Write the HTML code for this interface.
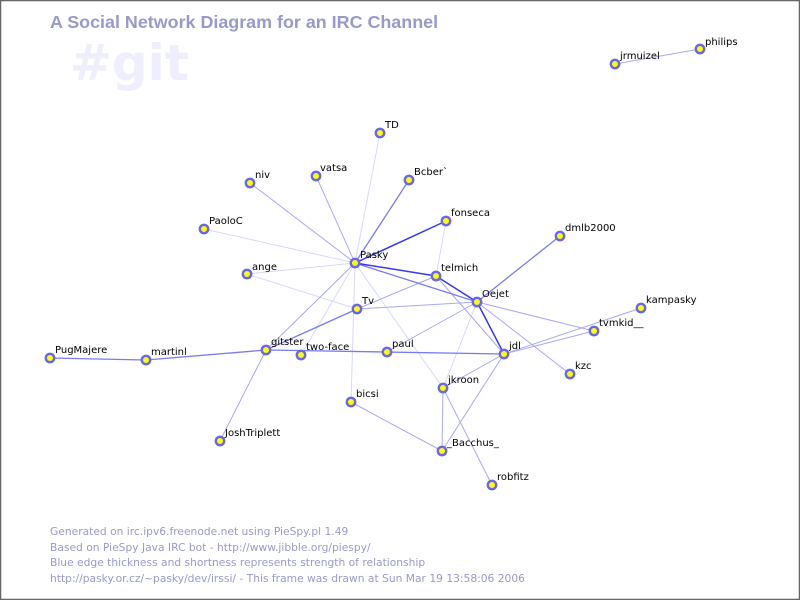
<!DOCTYPE html>
<html><head><meta charset="utf-8"><style>
html,body{margin:0;padding:0;background:#fff}
svg{display:block}
text{font-family:"DejaVu Sans","Liberation Sans",sans-serif}
</style></head><body>
<svg width="800" height="600" viewBox="0 0 800 600" xmlns="http://www.w3.org/2000/svg">
<rect x="0.5" y="0.5" width="799" height="599" fill="#fff" stroke="#666" stroke-width="1.5"/>
<text x="70" y="80" font-size="50" font-weight="bold" fill="#eeeefc">#git</text>
<text x="50" y="28" font-size="17.9" font-weight="bold" fill="#9999cc" style="font-family:'Liberation Sans',sans-serif">A Social Network Diagram for an IRC Channel</text>
<g font-size="10.7" fill="#9999cc" style="font-family:'Liberation Sans',sans-serif">
<text x="50" y="535">Generated on irc.ipv6.freenode.net using PieSpy.pl 1.49</text>
<text x="50" y="551">Based on PieSpy Java IRC bot - http://www.jibble.org/piespy/</text>
<text x="50" y="566">Blue edge thickness and shortness represents strength of relationship</text>
<text x="50" y="582">http://pasky.or.cz/~pasky/dev/irssi/ - This frame was drawn at Sun Mar 19 13:58:06 2006</text>
</g>
<g stroke-linecap="round">
<g stroke="#d8d8fa" stroke-width="1">
<line x1="355" y1="263" x2="380" y2="133"/>
<line x1="355" y1="263" x2="204" y2="229"/>
<line x1="247" y1="274" x2="357" y2="309"/>
<line x1="355" y1="263" x2="247" y2="274"/>
<line x1="446" y1="221" x2="436" y2="276"/>
<line x1="355" y1="263" x2="443" y2="388"/>
<line x1="477" y1="302" x2="443" y2="388"/>
<line x1="355" y1="263" x2="351" y2="402"/>
<line x1="355" y1="263" x2="301" y2="355"/>
</g>
<g stroke="#a8a8f6" stroke-width="1">
<line x1="355" y1="263" x2="250" y2="183"/>
<line x1="355" y1="263" x2="316" y2="176"/>
<line x1="355" y1="263" x2="266" y2="350"/>
<line x1="357" y1="309" x2="436" y2="276"/>
<line x1="477" y1="302" x2="387" y2="352"/>
<line x1="477" y1="302" x2="594" y2="331"/>
<line x1="477" y1="302" x2="570" y2="374"/>
<line x1="436" y1="276" x2="504" y2="354"/>
<line x1="504" y1="354" x2="641" y2="308"/>
<line x1="504" y1="354" x2="594" y2="331"/>
<line x1="504" y1="354" x2="443" y2="388"/>
<line x1="504" y1="354" x2="442" y2="451"/>
<line x1="443" y1="388" x2="442" y2="451"/>
<line x1="443" y1="388" x2="492" y2="485"/>
<line x1="351" y1="402" x2="442" y2="451"/>
<line x1="266" y1="350" x2="220" y2="441"/>
<line x1="357" y1="309" x2="477" y2="302"/>
<line x1="615" y1="64" x2="700" y2="49"/>
</g>
<g stroke="#7a7af4" stroke-width="1.3">
<line x1="146" y1="360" x2="50" y2="358"/>
<line x1="266" y1="350" x2="146" y2="360"/>
<line x1="266" y1="350" x2="504" y2="354"/>
<line x1="266" y1="350" x2="357" y2="309"/>
<line x1="355" y1="263" x2="409" y2="180"/>
<line x1="477" y1="302" x2="560" y2="236"/>
<line x1="355" y1="263" x2="477" y2="302"/>
</g>
<g stroke="#3838ee" stroke-width="1.5">
<line x1="355" y1="263" x2="446" y2="221"/>
<line x1="355" y1="263" x2="436" y2="276"/>
<line x1="436" y1="276" x2="477" y2="302"/>
<line x1="477" y1="302" x2="504" y2="354"/>
</g>
</g>
<g fill="#ffff00" stroke="#6666ee" stroke-width="2.4">
<circle cx="615" cy="64" r="4.2"/><circle cx="700" cy="49" r="4.2"/>
<circle cx="380" cy="133" r="4.2"/><circle cx="316" cy="176" r="4.2"/>
<circle cx="250" cy="183" r="4.2"/><circle cx="409" cy="180" r="4.2"/>
<circle cx="446" cy="221" r="4.2"/><circle cx="560" cy="236" r="4.2"/>
<circle cx="204" cy="229" r="4.2"/><circle cx="355" cy="263" r="4.2"/>
<circle cx="247" cy="274" r="4.2"/><circle cx="436" cy="276" r="4.2"/>
<circle cx="477" cy="302" r="4.2"/><circle cx="641" cy="308" r="4.2"/>
<circle cx="594" cy="331" r="4.2"/><circle cx="357" cy="309" r="4.2"/>
<circle cx="266" cy="350" r="4.2"/><circle cx="301" cy="355" r="4.2"/>
<circle cx="387" cy="352" r="4.2"/><circle cx="504" cy="354" r="4.2"/>
<circle cx="570" cy="374" r="4.2"/><circle cx="50" cy="358" r="4.2"/>
<circle cx="146" cy="360" r="4.2"/><circle cx="443" cy="388" r="4.2"/>
<circle cx="351" cy="402" r="4.2"/><circle cx="220" cy="441" r="4.2"/>
<circle cx="442" cy="451" r="4.2"/><circle cx="492" cy="485" r="4.2"/>
</g>
<g font-size="10" fill="#000">
<text x="620" y="59">jrmuizel</text><text x="705" y="45">philips</text>
<text x="385" y="128">TD</text><text x="320" y="171">vatsa</text>
<text x="255" y="178">niv</text><text x="414" y="175">Bcber`</text>
<text x="451" y="216">fonseca</text><text x="565" y="231">dmlb2000</text>
<text x="209" y="224">PaoloC</text><text x="360" y="258">Pasky</text>
<text x="252" y="270">ange</text><text x="441" y="271">telmich</text>
<text x="482" y="297">Oejet</text><text x="646" y="303">kampasky</text>
<text x="599" y="326">tvmkid__</text><text x="362" y="304">Tv</text>
<text x="271" y="345">gitster</text><text x="306" y="350">two-face</text>
<text x="392" y="347">paul</text><text x="509" y="349">jdl</text>
<text x="575" y="369">kzc</text><text x="55" y="353">PugMajere</text>
<text x="151" y="355">martinl</text><text x="448" y="383">jkroon</text>
<text x="356" y="397">bicsi</text><text x="225" y="436">JoshTriplett</text>
<text x="447" y="446">_Bacchus_</text><text x="497" y="480">robfitz</text>
</g>
</svg>
</body></html>
